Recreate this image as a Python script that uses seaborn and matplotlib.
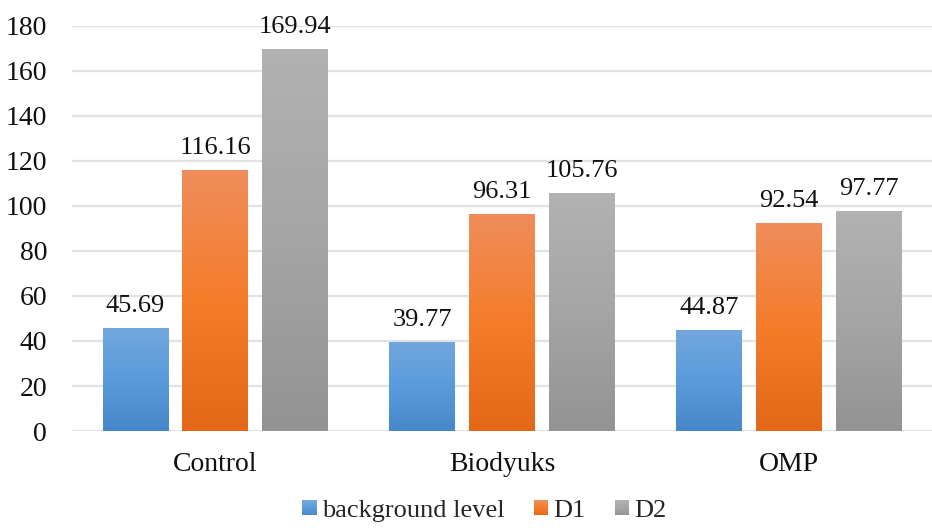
import numpy as np
import pandas as pd
import matplotlib
matplotlib.use("Agg")
import matplotlib.pyplot as plt
from matplotlib.colors import LinearSegmentedColormap
from matplotlib.patches import Patch, Rectangle
from matplotlib.legend_handler import HandlerBase
import seaborn as sns

categories = ["Control", "Biodyuks", "OMP"]
series = ["background level", "D1", "D2"]
background_level = [45.69, 39.77, 44.87]
d1 = [116.16, 96.31, 92.54]
d2 = [169.94, 105.76, 97.77]

# top, middle, bottom shades for each series
gradients = {
    "background level": ["#72a7dd", "#5a9bdc", "#4587c8"],
    "D1": ["#f08d5c", "#f47c2a", "#e36818"],
    "D2": ["#b2b2b2", "#a5a5a5", "#939393"],
}
cmaps = {s: LinearSegmentedColormap.from_list(s, gradients[s][::-1]) for s in series}

df = pd.DataFrame({
    "group": categories * 3,
    "series": [s for s in series for _ in categories],
    "value": background_level + d1 + d2,
})

sns.set_theme(style="white")
plt.rcParams["font.family"] = ["Liberation Serif", "DejaVu Serif"]
FS = 20

fig = plt.figure(figsize=(9.32, 5.28), dpi=100)
ax = fig.add_axes([0.0773, 0.1837, 0.9227, 0.7671])

palette = {s: gradients[s][1] for s in series}
sns.barplot(data=df, x="group", y="value", hue="series", hue_order=series,
            order=categories, palette=palette, width=0.836, gap=0.175,
            errorbar=None, legend=False, ax=ax, saturation=1)

ymax = 180
ax.set_ylim(0, ymax)
xlim = ax.get_xlim()

# replace flat fills with vertical gradients clipped to each bar
grad = np.linspace(0, 1, 256).reshape(-1, 1)
for container, s in zip(ax.containers, series):
    for bar, val in zip(container, container.datavalues):
        x0 = bar.get_x()
        w = bar.get_width()
        h = bar.get_height()
        im = ax.imshow(grad, cmap=cmaps[s], origin="lower", aspect="auto",
                       extent=[x0, x0 + w, 0, h], zorder=2,
                       interpolation="bicubic")
        im.set_clip_path(bar)
        bar.set_facecolor("none")
        bar.set_edgecolor("none")
        ax.annotate(f"{val:.2f}", (x0 + w / 2, h), xytext=(0, 11.5),
                    textcoords="offset points", ha="center", va="baseline",
                    fontsize=19, color="#111111")

ax.set_xlim(xlim)
ax.set_ylim(0, ymax)
ax.set_yticks(np.arange(0, 181, 20))
ax.yaxis.grid(True, color="#dfe2e7", linewidth=1.6)
ax.set_axisbelow(True)
for sp in ax.spines.values():
    sp.set_visible(False)
ax.set_xlabel("")
ax.set_ylabel("")
ax.tick_params(axis="both", length=0, labelsize=FS, colors="#111111")
ax.tick_params(axis="y", pad=18)
ax.tick_params(axis="x", pad=15)


class GradientHandler(HandlerBase):
    """Legend key drawn as a small square with a vertical gradient."""

    def __init__(self, cmap):
        super().__init__()
        self.cmap = cmap

    def create_artists(self, legend, orig_handle, xdescent, ydescent,
                       width, height, fontsize, trans):
        n = 12
        side = width
        y0 = -ydescent + (height - side) / 2
        arts = []
        for i in range(n):
            r = Rectangle((-xdescent, y0 + side * i / n), width, side / n + 0.3,
                          facecolor=self.cmap((i + 0.5) / n), edgecolor="none",
                          transform=trans)
            arts.append(r)
        return arts


handles = [Patch(facecolor=gradients[s][1], edgecolor="none", label=s) for s in series]
handler_map = {h: GradientHandler(cmaps[s]) for h, s in zip(handles, series)}
fig.legend(handles, series, handler_map=handler_map, loc="center",
           bbox_to_anchor=(0.52, 0.032), ncol=3, frameon=False, fontsize=19,
           handlelength=0.55, handleheight=0.55, handletextpad=0.2,
           columnspacing=1.1, borderpad=0)

fig.savefig("out.png", dpi=100)
